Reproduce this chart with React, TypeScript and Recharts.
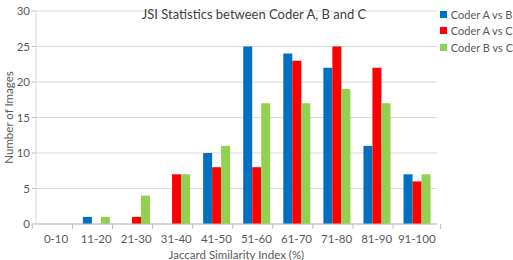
import { BarChart, Bar, XAxis, YAxis, CartesianGrid, Legend, Label } from 'recharts';

const ranges = ['0-10', '11-20', '21-30', '31-40', '41-50', '51-60', '61-70', '71-80', '81-90', '91-100'];
const coderAvsB = [0, 1, 0, 0, 10, 25, 24, 22, 11, 7];
const coderAvsC = [0, 0, 1, 7, 8, 8, 23, 25, 22, 6];
const coderBvsC = [0, 1, 4, 7, 11, 17, 17, 19, 17, 7];
const yTicks = [0, 5, 10, 15, 20, 25, 30];

const series = [
  { key: 'ab', name: 'Coder A vs B', color: '#0070C0', values: coderAvsB },
  { key: 'ac', name: 'Coder A vs C', color: '#FF0000', values: coderAvsC },
  { key: 'bc', name: 'Coder B vs C', color: '#92D050', values: coderBvsC },
];

const data = ranges.map((range, i) => {
  const row: Record<string, string | number> = { range };
  series.forEach((s) => (row[s.key] = s.values[i]));
  return row;
});

const FONT = 'Lato, "Liberation Sans", sans-serif';
const TEXT = '#595959';
const WIDTH = 513;
const HEIGHT = 260;
const MARGIN = { top: 11, right: 3, bottom: 0, left: 0 };
const Y_AXIS_W = 36;
const BAND = (WIDTH - MARGIN.left - MARGIN.right - Y_AXIS_W) / ranges.length;

// category label plus the small divider ticks that sit between categories
const RangeTick = (props: any) => {
  const { x, y, payload, index } = props;
  const left = x - BAND / 2;
  const right = x + BAND / 2;
  return (
    <g>
      <line x1={left} y1={y - 8} x2={left} y2={y - 3} stroke="#bfbfbf" />
      {index === ranges.length - 1 && <line x1={right} y1={y - 8} x2={right} y2={y - 3} stroke="#bfbfbf" />}
      <text x={x} y={y + 11} textAnchor="middle" fill={TEXT} fontSize={11.5} fontFamily={FONT}>
        {payload.value}
      </text>
    </g>
  );
};

const LegendBox = () => (
  <div style={{ fontFamily: FONT, fontSize: 11, color: TEXT }}>
    {series.map((s) => (
      <div key={s.key} style={{ display: 'flex', alignItems: 'center', height: 16.5 }}>
        <span style={{ width: 7, height: 7, background: s.color, marginRight: 4 }} />
        {s.name}
      </div>
    ))}
  </div>
);

export default function App() {
  return (
    <div style={{ position: 'absolute', left: 0, top: 0, width: WIDTH, height: HEIGHT, background: '#fff' }}>
      <div
        style={{
          position: 'absolute',
          top: 6,
          left: 0,
          width: 508,
          textAlign: 'center',
          fontFamily: FONT,
          fontSize: 13,
          color: '#404040',
          zIndex: 1,
        }}
      >
        JSI Statistics between Coder A, B and C
      </div>
      <BarChart width={WIDTH} height={HEIGHT} data={data} margin={MARGIN} barCategoryGap="17%" barGap={0}>
        <CartesianGrid horizontal vertical={false} stroke="#d9d9d9" />
        <XAxis
          dataKey="range"
          axisLine={{ stroke: '#bfbfbf' }}
          tickLine={false}
          tick={<RangeTick />}
          interval={0}
          height={36}
        >
          <Label
            value="Jaccard Similarity Index (%)"
            position="insideBottom"
            offset={1}
            fill={TEXT}
            fontSize={11.5}
            fontFamily={FONT}
          />
        </XAxis>
        <YAxis
          width={Y_AXIS_W}
          domain={[0, 30]}
          ticks={yTicks}
          axisLine={{ stroke: '#d9d9d9' }}
          tickLine={{ stroke: '#bfbfbf' }}
          tickSize={4}
          tick={{ fill: TEXT, fontSize: 11.5, fontFamily: FONT }}
        >
          <Label
            value="Number of Images"
            angle={-90}
            position="insideLeft"
            offset={9}
            style={{ textAnchor: 'middle' }}
            fill={TEXT}
            fontSize={11.5}
            fontFamily={FONT}
          />
        </YAxis>
        <Legend
          layout="vertical"
          align="right"
          verticalAlign="top"
          wrapperStyle={{ top: 6, right: 0, left: 'auto', width: 'auto' }}
          content={<LegendBox />}
        />
        {series.map((s) => (
          <Bar key={s.key} dataKey={s.key} name={s.name} fill={s.color} isAnimationActive={false} />
        ))}
      </BarChart>
    </div>
  );
}
